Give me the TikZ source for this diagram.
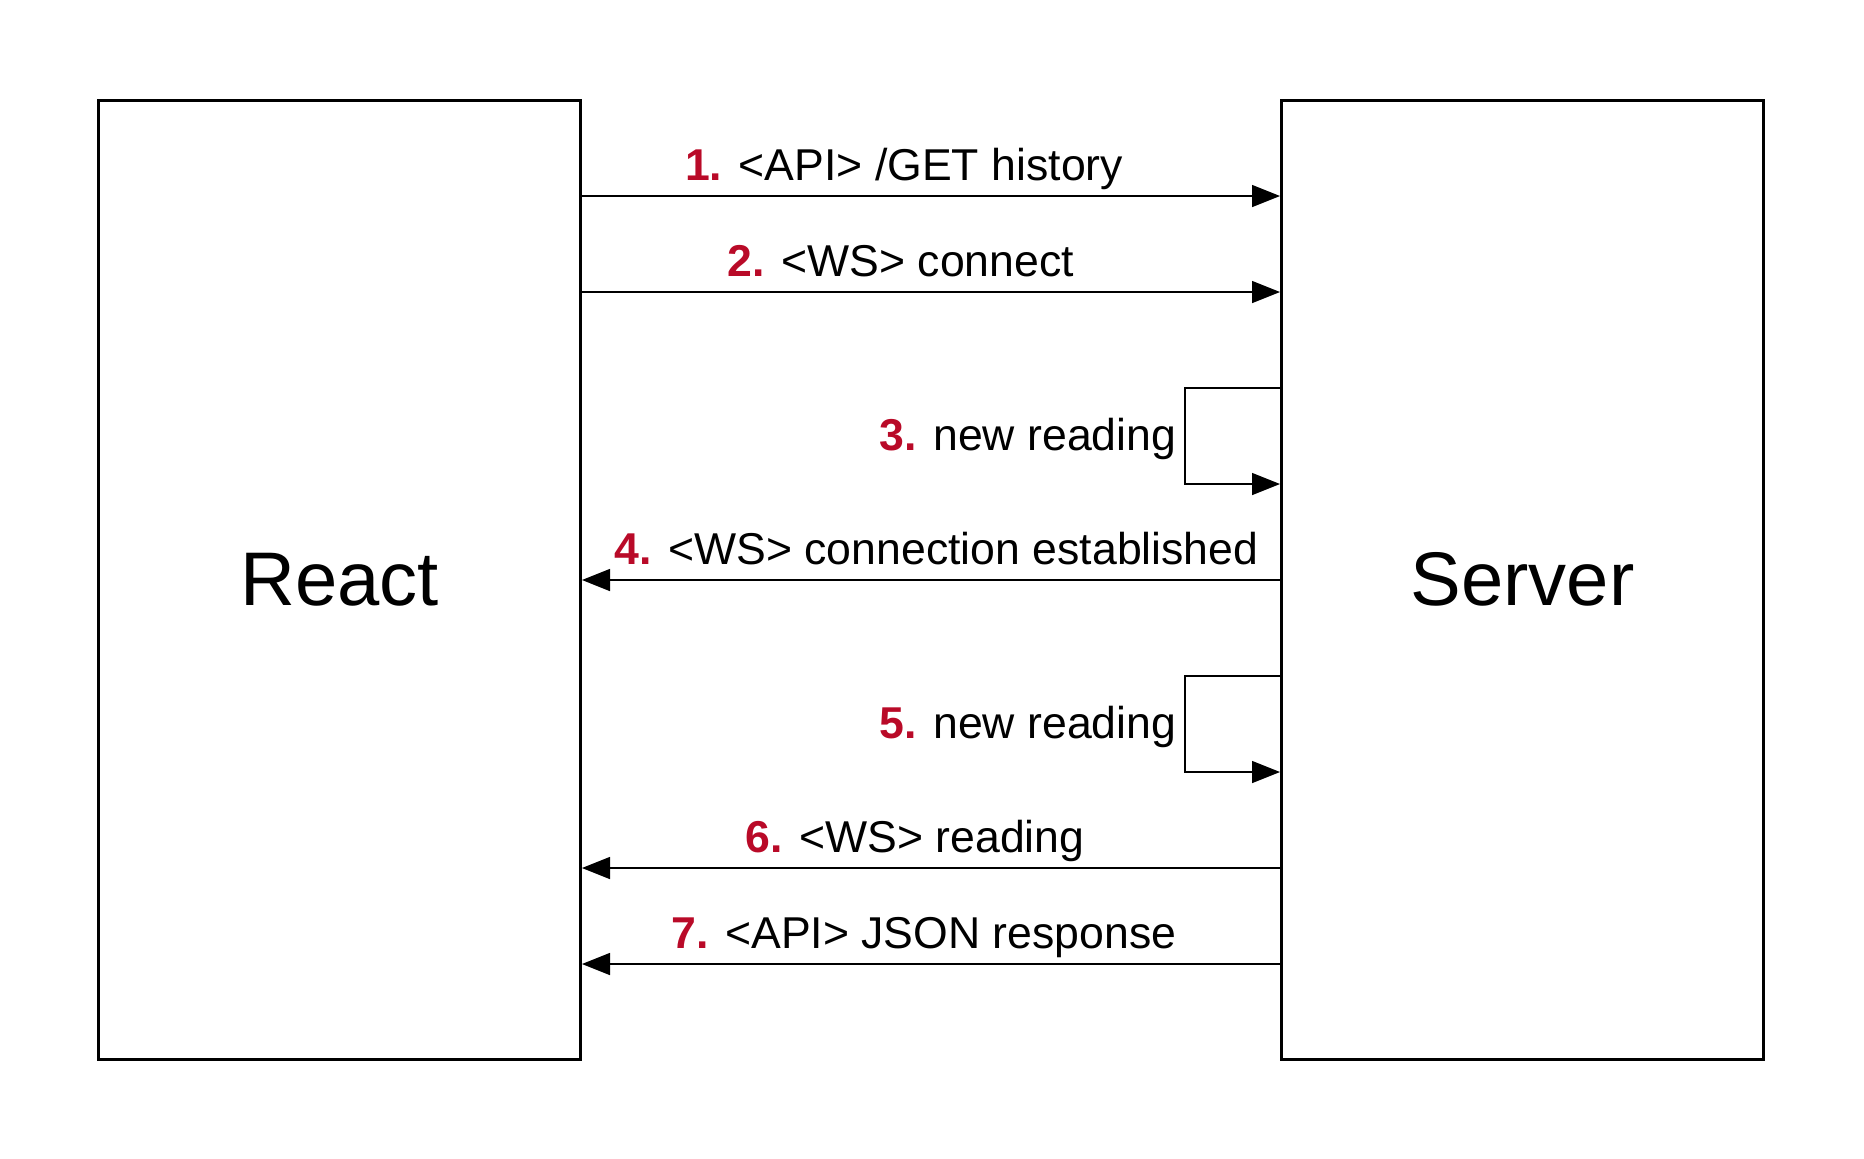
\documentclass[tikz,border=0pt]{standalone}
\usepackage{fontspec}
\setmainfont{Liberation Sans}
\usetikzlibrary{arrows.meta}
\definecolor{stepred}{RGB}{185,10,40}
\newcommand\stepno[1]{\textcolor{stepred}{\textbf{#1}}}

\begin{document}
\begin{tikzpicture}[x=0.5pt, y=-0.5pt,
party/.style={draw, line width=1.5pt, minimum width=241pt, minimum height=479.5pt,
    inner sep=0pt, font=\fontsize{38}{44}\selectfont},
msg/.style={line width=0.75pt, -{Triangle[length=14pt, width=11pt]}},
lbl/.style={font=\fontsize{22.3}{26}\selectfont, anchor=base, yshift=8pt, inner sep=0pt},
sidelbl/.style={font=\fontsize{22.3}{26}\selectfont, anchor=base east, xshift=-4pt,
    yshift=-31pt, inner sep=0pt}]
\useasboundingbox (0,0) rectangle (1864,1158);
\node[party] (react) at (339.5,579.5) {React};
\node[party] (server) at (1522.5,579.5) {Server};
\foreach \i/\y in {1/196, 2/292, 3/388, 4/484, 5/580, 6/676, 7/772, 8/868, 9/964}
    \coordinate (r\i) at (0,\y);
\draw[msg] (react.east |- r1) -- node[lbl, xshift=-13.5pt] {\stepno{1.} <API> /GET history} (server.west |- r1);
\draw[msg] (react.east |- r2) -- node[lbl, xshift=-15pt] {\stepno{2.} <WS> connect} (server.west |- r2);
\draw[msg] (server.west |- r3) -- ++(-95,0) node[sidelbl] {\stepno{3.} new reading} |- (server.west |- r4);
\draw[msg] (server.west |- r5) -- node[lbl, xshift=2.75pt] {\stepno{4.} <WS> connection established} (react.east |- r5);
\draw[msg] (server.west |- r6) -- ++(-95,0) node[sidelbl] {\stepno{5.} new reading} |- (server.west |- r7);
\draw[msg] (server.west |- r8) -- node[lbl, xshift=-8pt] {\stepno{6.} <WS> reading} (react.east |- r8);
\draw[msg] (server.west |- r9) -- node[lbl, xshift=-3.5pt] {\stepno{7.} <API> JSON response} (react.east |- r9);
\end{tikzpicture}
\end{document}
